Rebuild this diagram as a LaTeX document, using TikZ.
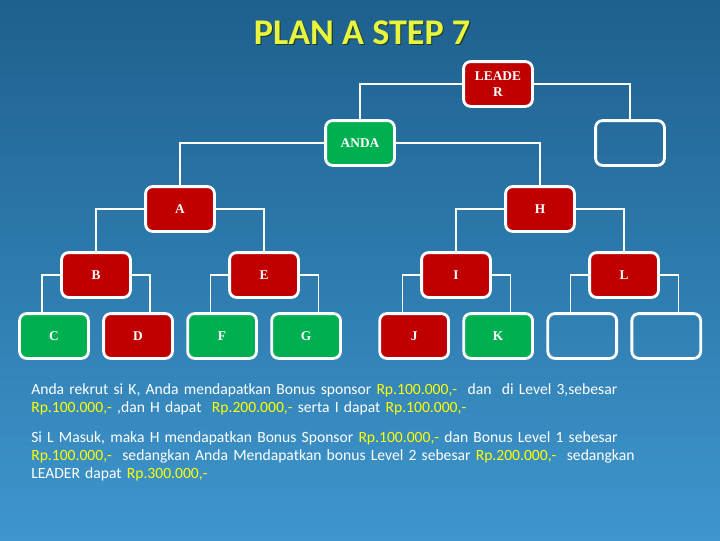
\documentclass[tikz,border=0pt]{standalone}
\usepackage{fontspec}
\setmainfont{Carlito}
\newfontfamily\boxfont{Liberation Serif}
\usetikzlibrary{positioning}
\definecolor{bgtop}{RGB}{30,96,142}
\definecolor{bgbot}{RGB}{62,150,205}
\definecolor{boxred}{RGB}{192,0,0}
\definecolor{boxgreen}{RGB}{0,176,80}
\definecolor{rpyellow}{RGB}{255,255,0}
\definecolor{titleyellow}{RGB}{232,245,60}
\definecolor{titleshade}{RGB}{25,60,40}
\newcommand{\uang}[1]{\textcolor{rpyellow}{#1}}
\tikzset{
    member/.style={rectangle, rounded corners=5pt, draw=white, line width=2pt, minimum width=1.72cm, minimum height=1.12cm, inner sep=1pt, align=center, text=white, font=\boxfont\bfseries\fontsize{9.5}{11}\selectfont},
    upline/.style={member, fill=boxred},
    downline/.style={member, fill=boxgreen},
    vacant/.style={member},
    link/.style={draw=white, line width=0.8pt},
    note/.style={anchor=north west, text width=16.8cm, align=left, inner sep=0pt, text=white, font=\fontsize{11.1}{13}\selectfont}
}

\begin{document}
\begin{tikzpicture}[x=0.025cm, y=-0.025cm, node distance=0.31cm]
  \fill[top color=bgtop, bottom color=bgbot] (0,0) rectangle (720,540);
  \useasboundingbox (0,0) rectangle (720,540);
  % judul
  \node[text=titleshade, font=\fontsize{25.7}{30}\selectfont\bfseries] (titleshadow) at (363.1,34.1) {PLAN A STEP 7};
  \node[text=titleyellow, font=\fontsize{25.7}{30}\selectfont\bfseries] (title) at (362,33) {PLAN A STEP 7};
  % pohon jaringan
  \node[upline] (leader) at (498,84) {LEADE\\R};
  \node[downline] (anda) at (360,143) {ANDA};
  \node[vacant] (spare) at (630,143) {};
  \node[upline] (a) at (180,209) {A};
  \node[upline] (h) at (540,209) {H};
  \node[upline] (b) at (96,275) {B};
  \node[upline] (e) at (264,275) {E};
  \node[upline] (i) at (456,275) {I};
  \node[upline] (l) at (624,275) {L};
  \node[downline] (c) at (54,336) {C};
  \node[upline, right=of c] (d) {D};
  \node[downline, right=of d] (f) {F};
  \node[downline, right=of f] (g) {G};
  \node[upline, right=0.91cm of g] (j) {J};
  \node[downline, right=of j] (k) {K};
  \node[vacant, right=of k] (m) {};
  \node[vacant, right=of m] (n) {};
  \draw[link] (leader.west) -| (anda.north);
  \draw[link] (leader.east) -| (spare.north);
  \draw[link] (anda.west) -| (a.north);
  \draw[link] (anda.east) -| (h.north);
  \draw[link] (a.west) -| (b.north);
  \draw[link] (a.east) -| (e.north);
  \draw[link] (h.west) -| (i.north);
  \draw[link] (h.east) -| (l.north);
  \draw[link] (b.west) -| ([xshift=-0.3cm]c.north);
  \draw[link] (b.east) -| ([xshift=0.3cm]d.north);
  \draw[link] (e.west) -| ([xshift=-0.3cm]f.north);
  \draw[link] (e.east) -| ([xshift=0.3cm]g.north);
  \draw[link] (i.west) -| ([xshift=-0.3cm]j.north);
  \draw[link] (i.east) -| ([xshift=0.3cm]k.north);
  \draw[link] (l.west) -| ([xshift=-0.3cm]m.north);
  \draw[link] (l.east) -| ([xshift=0.3cm]n.north);
  % keterangan
  \node[note] (para1) at (31,383) {Anda rekrut si K, Anda mendapatkan Bonus sponsor \uang{Rp.100.000,-}\ \ dan\ \ di Level 3,sebesar\\
    \uang{Rp.100.000,-}\ ,dan H dapat\ \ \uang{Rp.200.000,-} serta I dapat \uang{Rp.100.000,-}};
  \node[note, below=0.4cm of para1.south west, anchor=north west] (para2) {Si L Masuk, maka H mendapatkan Bonus Sponsor \uang{Rp.100.000,-} dan Bonus Level 1 sebesar\\
    \uang{Rp.100.000,-}\ \ sedangkan Anda Mendapatkan bonus Level 2 sebesar \uang{Rp.200.000,-}\ \ sedangkan\\
    LEADER dapat \uang{Rp.300.000,-}};
\end{tikzpicture}
\end{document}
